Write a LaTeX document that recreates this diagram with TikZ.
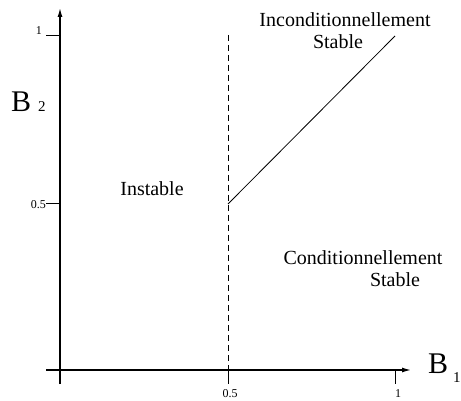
\documentclass[tikz,border=0pt]{standalone}
\usepackage{fontspec}
\setmainfont{Liberation Serif}
\usetikzlibrary{arrows.meta}
\begin{document}
\begin{tikzpicture}[x=1pt,y=-1pt,
  axis/.style={line width=1.3pt,-{Latex[length=9pt,width=5pt]}},
  tickline/.style={line width=1pt},
  region/.style={font=\fontsize{20}{22}\selectfont,anchor=base,inner sep=0pt},
  ticklab/.style={font=\fontsize{12}{13}\selectfont,inner sep=0pt},
  axlab/.style={font=\fontsize{30}{32}\selectfont,anchor=base,inner sep=0pt},
  sublab/.style={font=\fontsize{15}{16}\selectfont,anchor=base,inner sep=0pt}]
\useasboundingbox (0,0) rectangle (461,401);
% coordinates
\coordinate (ybot) at (60,384);
\coordinate (ytop) at (60,8);
\coordinate (xleft) at (46,370);
\coordinate (xright) at (411,370);
\coordinate (ty1a) at (46,36);
\coordinate (ty1b) at (60,36);
\coordinate (ty5a) at (46,204);
\coordinate (ty5b) at (60,204);
\coordinate (tx5a) at (228,370);
\coordinate (tx5b) at (228,384);
\coordinate (tx1a) at (395,370);
\coordinate (tx1b) at (395,384);
\coordinate (dtop) at (228,35);
\coordinate (lstart) at (228,204);
\coordinate (lend) at (395,36);
% axes
\draw[axis] (ybot) -- (ytop);
\draw[axis] (xleft) -- (xright);
% ticks
\draw[tickline] (ty1a) -- (ty1b);
\draw[tickline] (ty5a) -- (ty5b);
\draw[tickline] (tx5a) -- (tx5b);
\draw[tickline] (tx1a) -- (tx1b);
% boundary lines
\draw[line width=0.9pt,dash pattern=on 6pt off 4pt] (dtop) -- (tx5a);
\draw[line width=0.8pt] (lstart) -- (lend);
% tick labels
\node[ticklab,anchor=base east] (ly1) at (42,35) {1};
\node[ticklab,anchor=base east] (ly5) at (46,209) {0.5};
\node[ticklab,anchor=base] (lx5) at (230,397) {0.5};
\node[ticklab,anchor=base] (lx1) at (398,397) {1};
% axis labels
\node[axlab,anchor=base west] (B2) at (11,112) {B};
\node[sublab,anchor=base west] (s2) at (38,112) {2};
\node[axlab,anchor=base west] (B1) at (428,373) {B};
\node[sublab,anchor=base west] (s1) at (453,382) {1};
% region labels
\node[region] (inc) at (345,27) {Inconditionnellement};
\node[region] (incs) at (338,49) {Stable};
\node[region] (inst) at (152,196) {Instable};
\node[region] (cond) at (363,265) {Conditionnellement};
\node[region] (conds) at (395,286) {Stable};
\end{tikzpicture}
\end{document}
